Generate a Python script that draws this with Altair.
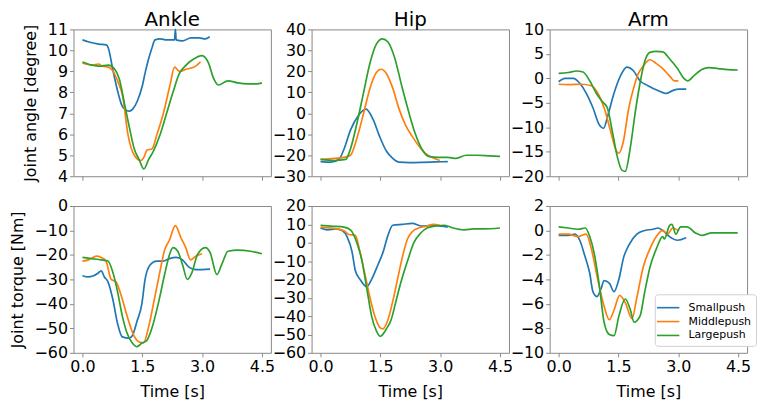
import altair as alt
import pandas as pd

SERIES = ["Smallpush", "Middlepush", "Largepush"]
COLORS = ["#1f77b4", "#ff7f0e", "#2ca02c"]

# ---------------- Ankle angle [degree] ----------------
ankle_angle_small_t = [0, 0.16, 0.41, 0.61, 0.65, 0.77, 0.89, 1.01, 1.18, 1.26, 1.38, 1.50, 1.58, 1.66, 1.74, 1.82, 1.95, 2.11, 2.31, 2.33, 2.35, 2.51, 2.72, 2.92, 3.08, 3.19]
ankle_angle_small_v = [10.5, 10.4, 10.3, 10.25, 10.1, 9.0, 8.0, 7.3, 7.1, 7.2, 7.6, 8.3, 9.0, 9.6, 10.1, 10.5, 10.55, 10.5, 10.5, 11.0, 10.5, 10.45, 10.6, 10.6, 10.55, 10.65]
ankle_angle_middle_t = [0, 0.24, 0.41, 0.49, 0.65, 0.77, 0.89, 1.01, 1.14, 1.30, 1.46, 1.54, 1.62, 1.74, 1.87, 2.03, 2.19, 2.31, 2.43, 2.60, 2.84, 2.96]
ankle_angle_middle_v = [9.4, 9.3, 9.35, 9.25, 9.2, 9.0, 8.5, 7.8, 6.0, 5.0, 4.75, 4.9, 5.25, 5.3, 6.0, 7.0, 8.3, 9.2, 9.0, 9.1, 9.25, 9.45]
ankle_angle_large_t = [0, 0.24, 0.41, 0.65, 0.81, 0.93, 1.05, 1.18, 1.30, 1.42, 1.54, 1.66, 1.78, 1.95, 2.11, 2.27, 2.43, 2.60, 2.76, 3.00, 3.16, 3.28, 3.41, 3.65, 3.89, 4.14, 4.38, 4.5]
ankle_angle_large_v = [9.45, 9.3, 9.25, 9.3, 9.1, 8.6, 7.5, 6.3, 5.3, 4.8, 4.35, 4.8, 5.2, 6.0, 7.0, 8.0, 8.9, 9.3, 9.55, 9.75, 9.4, 8.7, 8.35, 8.55, 8.45, 8.4, 8.4, 8.45]

# ---------------- Hip angle [degree] ----------------
hip_angle_small_t = [0, 0.26, 0.46, 0.59, 0.75, 0.95, 1.14, 1.32, 1.48, 1.65, 1.81, 1.97, 2.22, 2.54, 2.87, 3.19]
hip_angle_small_v = [-23, -23.3, -22, -17, -8, -1, 2, -3, -11, -18, -21.5, -23.3, -23.5, -23.4, -23.2, -23]
hip_angle_middle_t = [0, 0.34, 0.59, 0.75, 0.91, 1.08, 1.24, 1.40, 1.52, 1.65, 1.81, 1.97, 2.14, 2.30, 2.46, 2.62, 2.79, 2.99]
hip_angle_middle_v = [-22, -21.5, -21, -20, -12, 0, 12, 19.5, 21, 19, 12, 2, -6, -11, -15.5, -19, -21, -22.5]
hip_angle_large_t = [0, 0.34, 0.63, 0.75, 0.91, 1.08, 1.24, 1.40, 1.55, 1.69, 1.85, 2.05, 2.22, 2.38, 2.54, 2.71, 2.95, 3.19, 3.40, 3.65, 3.93, 4.25, 4.50]
hip_angle_large_v = [-22, -22.5, -22, -17, -5, 10, 24, 33, 35.5, 34, 27, 12, 0, -10, -17, -20.5, -21, -21, -21.5, -20, -20, -20.3, -20.5]

# ---------------- Arm angle [degree] ----------------
arm_angle_small_t = [0, 0.16, 0.37, 0.53, 0.69, 0.86, 1.02, 1.13, 1.22, 1.39, 1.55, 1.71, 1.88, 2.04, 2.24, 2.49, 2.69, 2.86, 3.02, 3.20]
arm_angle_small_v = [-0.7, 0, 0, -1, -3, -6, -9.5, -10.2, -8, -3, 0.5, 2.3, 1.5, -0.5, -1.5, -2.5, -3.1, -2.5, -2.2, -2.2]
arm_angle_middle_t = [0, 0.24, 0.57, 0.82, 0.98, 1.14, 1.31, 1.43, 1.51, 1.62, 1.76, 1.88, 2.00, 2.12, 2.29, 2.45, 2.61, 2.78, 2.90, 3.00]
arm_angle_middle_v = [-1.2, -1.3, -1.2, -1.5, -3, -6, -11, -14.5, -15.3, -13, -6, -2, 1, 2.5, 3.8, 3, 2, 0.5, -0.5, -0.5]
arm_angle_large_t = [0, 0.24, 0.45, 0.61, 0.78, 0.94, 1.10, 1.22, 1.35, 1.47, 1.59, 1.67, 1.80, 1.92, 2.04, 2.16, 2.29, 2.45, 2.61, 2.78, 2.98, 3.14, 3.24, 3.39, 3.59, 3.76, 4.00, 4.24, 4.49]
arm_angle_large_v = [1, 1.2, 1.5, 1.3, -0.5, -3, -4.8, -6, -11, -16, -18.8, -19, -14, -7, -1, 3.5, 5.3, 5.5, 5.4, 4, 2, 0, -0.5, 0.5, 1.8, 2.2, 2.0, 1.8, 1.7]

# ---------------- Ankle torque [Nm] ----------------
ankle_torque_small_t = [0, 0.15, 0.39, 0.47, 0.55, 0.64, 0.76, 0.88, 1.00, 1.17, 1.25, 1.37, 1.49, 1.57, 1.70, 1.86, 2.02, 2.18, 2.35, 2.51, 2.67, 2.84, 3.00, 3.20]
ankle_torque_small_v = [-28.5, -29, -27.5, -26.5, -29, -31, -38, -48, -53.5, -54, -53, -47, -40, -30, -24, -22.5, -22.5, -21.5, -21, -22, -25, -26, -26, -25.8]
ankle_torque_middle_t = [0, 0.15, 0.35, 0.47, 0.59, 0.72, 0.84, 0.96, 1.12, 1.29, 1.41, 1.53, 1.65, 1.78, 1.94, 2.06, 2.18, 2.33, 2.47, 2.59, 2.71, 2.84, 3.00]
ankle_torque_middle_v = [-22.5, -22, -20.5, -21, -22.5, -30, -31, -36, -45, -53, -55.5, -56, -50, -40, -27, -18, -14, -8, -13, -17, -22, -20.5, -19.5]
ankle_torque_large_t = [0, 0.23, 0.47, 0.64, 0.76, 0.88, 1.00, 1.12, 1.25, 1.37, 1.49, 1.61, 1.74, 1.90, 2.06, 2.18, 2.27, 2.39, 2.51, 2.63, 2.75, 2.88, 3.08, 3.20, 3.37, 3.49, 3.65, 3.90, 4.22, 4.50]
ankle_torque_large_v = [-21, -21.5, -22, -22.5, -27, -35, -45, -52, -56, -57.5, -56, -55, -50, -40, -28, -20, -17, -18.5, -24, -30, -27, -20, -17, -19, -28, -24, -18.5, -18, -18.5, -19.5]

# ---------------- Hip torque [Nm] ----------------
hip_torque_small_t = [0, 0.18, 0.38, 0.55, 0.67, 0.79, 0.87, 0.99, 1.16, 1.28, 1.44, 1.57, 1.69, 1.81, 2.05, 2.30, 2.54, 2.79, 3.03, 3.19]
hip_torque_small_v = [8, 7, 7.5, 6.5, 3, -5, -15, -20, -24, -20, -12, -5, 4, 9.5, 10, 10.5, 9, 9.5, 9, 8.5]
hip_torque_middle_t = [0, 0.26, 0.59, 0.71, 0.87, 0.99, 1.12, 1.24, 1.36, 1.48, 1.56, 1.69, 1.81, 1.93, 2.05, 2.18, 2.30, 2.46, 2.67, 2.83, 2.99]
hip_torque_middle_v = [8.5, 8, 6.5, 4.5, 4, -5, -18, -30, -40, -46, -47, -42, -32, -20, -8, 2, 6, 8, 9, 10, 9.5]
hip_torque_large_t = [0, 0.26, 0.59, 0.75, 0.91, 1.04, 1.16, 1.28, 1.40, 1.50, 1.65, 1.77, 1.89, 2.01, 2.18, 2.34, 2.50, 2.67, 2.87, 3.11, 3.32, 3.60, 3.85, 4.09, 4.50]
hip_torque_large_v = [9.5, 9, 8.5, 7, 0, -10, -25, -40, -48, -51, -47, -42, -32, -22, -10, 0, 5, 8, 9, 9.5, 8, 7, 7.5, 7.5, 8]

# ---------------- Arm torque [Nm] ----------------
arm_torque_small_t = [0, 0.24, 0.41, 0.53, 0.65, 0.78, 0.86, 0.96, 1.06, 1.14, 1.27, 1.39, 1.51, 1.63, 1.76, 1.96, 2.16, 2.37, 2.49, 2.61, 2.78, 2.98, 3.20]
arm_torque_small_v = [-0.4, -0.4, -0.3, -0.8, -2, -3.5, -5, -5.4, -4.8, -4.1, -4.3, -5.0, -4, -2.2, -1.2, -0.3, 0, 0.1, 0.2, 0, -0.5, -0.8, -0.6]
arm_torque_middle_t = [0, 0.24, 0.49, 0.69, 0.82, 0.98, 1.14, 1.27, 1.39, 1.53, 1.67, 1.84, 1.96, 2.12, 2.29, 2.45, 2.61, 2.73, 2.86, 3.00]
arm_torque_middle_v = [-0.3, -0.3, -0.5, -0.3, -1.5, -4, -6.2, -7.3, -6.5, -5.3, -5.9, -7.2, -5.5, -3, -1.5, -0.5, 0, -0.3, 0.2, 0]
arm_torque_large_t = [0, 0.24, 0.49, 0.67, 0.78, 0.90, 1.02, 1.14, 1.27, 1.39, 1.51, 1.67, 1.80, 1.89, 2.04, 2.16, 2.29, 2.45, 2.61, 2.65, 2.78, 2.84, 2.94, 3.06, 3.22, 3.43, 3.59, 3.84, 4.16, 4.49]
arm_torque_large_v = [0.3, 0.2, 0.1, 0.2, -0.5, -2, -4.5, -7.5, -8.5, -8.6, -7, -5.6, -6.5, -7.5, -7, -5, -3, -1.5, -0.5, -0.7, 0.4, 0.5, -0.3, 0.3, 0.3, -0.2, -0.4, -0.2, -0.2, -0.2]

PANEL_TITLES = ["Ankle", "Hip", "Arm"]
X_TICKS = [0.0, 1.5, 3.0, 4.5]
FONT = "DejaVu Sans"
W, H = 199, 148


def make_df(triples):
    rows = []
    for name, ts, vs in triples:
        for t, v in zip(ts, vs):
            rows.append({"series": name, "t": t, "v": v})
    return pd.DataFrame(rows)


def panel(df, ydom, yticks, title=None, ytitle=None, bottom=False, legend=False):
    x_axis = alt.Axis(values=X_TICKS, format=".1f", labels=bottom,
                      title="Time [s]" if bottom else None, titlePadding=9)
    y_axis = alt.Axis(values=yticks, title=ytitle, titlePadding=9)
    if legend:
        leg = alt.Legend(title=None, orient="none", legendX=106, legendY=89,
                         symbolType="M-1.5,0H1.5", symbolSize=225, symbolStrokeWidth=1.6,
                         labelFont=FONT, labelFontSize=11, labelColor="black",
                         labelOffset=12, rowPadding=-1, padding=5,
                         fillColor="white", strokeColor="#d0d0d0", cornerRadius=3)
    else:
        leg = None
    lines = alt.Chart(df).mark_line(strokeWidth=1.7, interpolate="monotone").encode(
        x=alt.X("t:Q", scale=alt.Scale(domain=[-0.225, 4.725], nice=False, zero=False), axis=x_axis),
        y=alt.Y("v:Q", scale=alt.Scale(domain=ydom, nice=False, zero=False), axis=y_axis),
        color=alt.Color("series:N", scale=alt.Scale(domain=SERIES, range=COLORS), legend=leg),
        detail="series:N",
    )
    if title:
        ttl = alt.Chart(pd.DataFrame({"label": [title]})).mark_text(
            font=FONT, fontSize=20, align="center", baseline="alphabetic", color="black"
        ).encode(text="label:N", x=alt.value(W / 2), y=alt.value(-3))
        return alt.layer(lines, ttl).properties(width=W, height=H)
    return lines.properties(width=W, height=H)


p_aa = panel(make_df([("Smallpush", ankle_angle_small_t, ankle_angle_small_v),
                      ("Middlepush", ankle_angle_middle_t, ankle_angle_middle_v),
                      ("Largepush", ankle_angle_large_t, ankle_angle_large_v)]),
             [4, 11], list(range(4, 12)), title=PANEL_TITLES[0], ytitle="Joint angle [degree]")
p_ha = panel(make_df([("Smallpush", hip_angle_small_t, hip_angle_small_v),
                      ("Middlepush", hip_angle_middle_t, hip_angle_middle_v),
                      ("Largepush", hip_angle_large_t, hip_angle_large_v)]),
             [-30, 40], list(range(-30, 41, 10)), title=PANEL_TITLES[1])
p_ra = panel(make_df([("Smallpush", arm_angle_small_t, arm_angle_small_v),
                      ("Middlepush", arm_angle_middle_t, arm_angle_middle_v),
                      ("Largepush", arm_angle_large_t, arm_angle_large_v)]),
             [-20, 10], list(range(-20, 11, 5)), title=PANEL_TITLES[2])
p_at = panel(make_df([("Smallpush", ankle_torque_small_t, ankle_torque_small_v),
                      ("Middlepush", ankle_torque_middle_t, ankle_torque_middle_v),
                      ("Largepush", ankle_torque_large_t, ankle_torque_large_v)]),
             [-60, 0], list(range(-60, 1, 10)), ytitle="Joint torque [Nm]", bottom=True)
p_ht = panel(make_df([("Smallpush", hip_torque_small_t, hip_torque_small_v),
                      ("Middlepush", hip_torque_middle_t, hip_torque_middle_v),
                      ("Largepush", hip_torque_large_t, hip_torque_large_v)]),
             [-60, 20], list(range(-60, 21, 10)), bottom=True)
p_rt = panel(make_df([("Smallpush", arm_torque_small_t, arm_torque_small_v),
                      ("Middlepush", arm_torque_middle_t, arm_torque_middle_v),
                      ("Largepush", arm_torque_large_t, arm_torque_large_v)]),
             [-10, 2], list(range(-10, 3, 2)), bottom=True, legend=True)

chart = alt.concat(p_aa, p_ha, p_ra, p_at, p_ht, p_rt, columns=3,
                   spacing={"row": 30, "column": 41}, bounds="flush").resolve_scale(
    color="independent").resolve_legend(color="independent").properties(
    padding={"left": 0, "top": 0, "right": 0, "bottom": 0}, background="white"
).configure_view(stroke="#888", strokeWidth=1).configure_axis(
    domain=False, grid=False, tickColor="#888", tickSize=4, labelPadding=2,
    labelFont=FONT, labelFontSize=16, labelColor="black",
    titleFont=FONT, titleFontSize=16, titleFontWeight="normal", titleColor="black",
)

chart.save("out.html", embed_options={"renderer": "svg", "actions": False})
